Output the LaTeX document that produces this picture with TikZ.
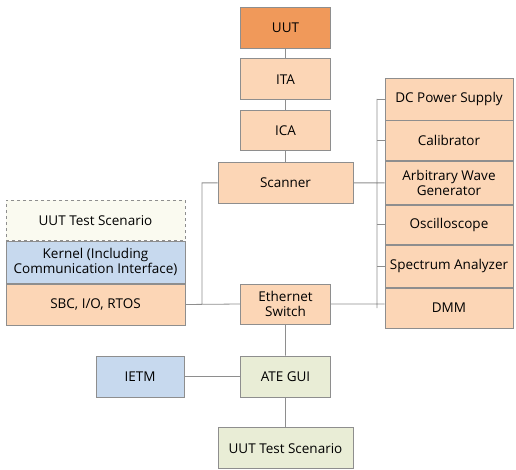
\documentclass[tikz,border=0pt]{standalone}
\usepackage{fontspec}
\setmainfont{Open Sans}
\usepackage{tikz}
\usetikzlibrary{positioning}
\definecolor{uutorange}{HTML}{F0995A}
\definecolor{peach}{HTML}{FCD6B6}
\definecolor{paleblue}{HTML}{C7D9EE}
\definecolor{palegreen}{HTML}{E9EDD6}
\definecolor{paleyellow}{HTML}{FAFAF0}
\definecolor{boxline}{HTML}{8E8E8E}
\tikzset{
  block/.style={draw=boxline,line width=0.8pt,rectangle,align=center,
    inner sep=0pt,font=\fontsize{13.5}{15}\selectfont},
  small block/.style={block,minimum width=90pt,minimum height=41pt},
  wide block/.style={block,minimum width=135pt,minimum height=41pt},
  left block/.style={block,minimum width=179pt,minimum height=41pt},
  instr block/.style={block,fill=peach,minimum width=128pt},
  wire/.style={draw=boxline,line width=0.8pt},
}
\begin{document}
\begin{tikzpicture}[x=1pt,y=-1pt]
  \useasboundingbox (0,0) rectangle (516,470);
  \node[small block,fill=uutorange] (uut) at (285.5,27.5) {UUT};
  \node[small block,fill=peach] (ita) [below=10pt of uut] {ITA};
  \node[small block,fill=peach,minimum height=40pt] (ica) [below=10pt of ita] {ICA};
  \node[wide block,fill=peach] (scanner) [below=11pt of ica] {Scanner};
  \node[small block,fill=peach,minimum height=40pt] (eth) at (285.5,304) {Ethernet\\Switch};
  \node[small block,fill=palegreen] (ategui) at (285.5,376.5) {ATE GUI};
  \node[wide block,fill=palegreen] (scenario) [below=30pt of ategui] {UUT Test Scenario};
  \node[small block,fill=paleblue,minimum width=88pt] (ietm) at (140,376.5) {IETM};
  \node[left block,fill=peach] (sbc) at (95.5,304.5) {SBC, I/O, RTOS};
  \node[left block,fill=paleblue,minimum height=42pt,anchor=south] (kernel) at (sbc.north) {Kernel (Including\\Communication Interface)};
  \node[left block,fill=paleyellow,dashed,minimum height=40pt,anchor=south] (uutscen) at (kernel.north) {UUT Test Scenario};
  \node[instr block,minimum height=42pt] (dcps) at (449,99) {DC Power Supply};
  \node[instr block,minimum height=40pt,anchor=north] (calib) at (dcps.south) {Calibrator};
  \node[instr block,minimum height=43pt,anchor=north] (awg) at (calib.south) {Arbitrary Wave\\Generator};
  \node[instr block,minimum height=39pt,anchor=north] (osc) at (awg.south) {Oscilloscope};
  \node[instr block,minimum height=42pt,anchor=north] (spec) at (osc.south) {Spectrum Analyzer};
  \node[instr block,minimum height=40pt,anchor=north] (dmm) at (spec.south) {DMM};
  \coordinate (lbus) at (202,0);
  \coordinate (rbus) at (377,0);
  \path[wire] (uut) -- (ita) (ita) -- (ica) (ica) -- (scanner)
    (eth) -- (ategui) (ategui) -- (scenario) (ietm) -- (ategui)
    (sbc.east) -- (eth.west)
    (scanner.west) -| (lbus |- eth.west)
    (scanner.east) -- (scanner.east -| awg.west)
    (eth.east) -- (eth.east -| dmm.west)
    (rbus |- dcps.west) -- (rbus |- dmm.west);
  \foreach \n in {dcps,calib,osc,spec}
    \path[wire] (rbus |- \n.west) -- (\n.west);
\end{tikzpicture}
\end{document}
